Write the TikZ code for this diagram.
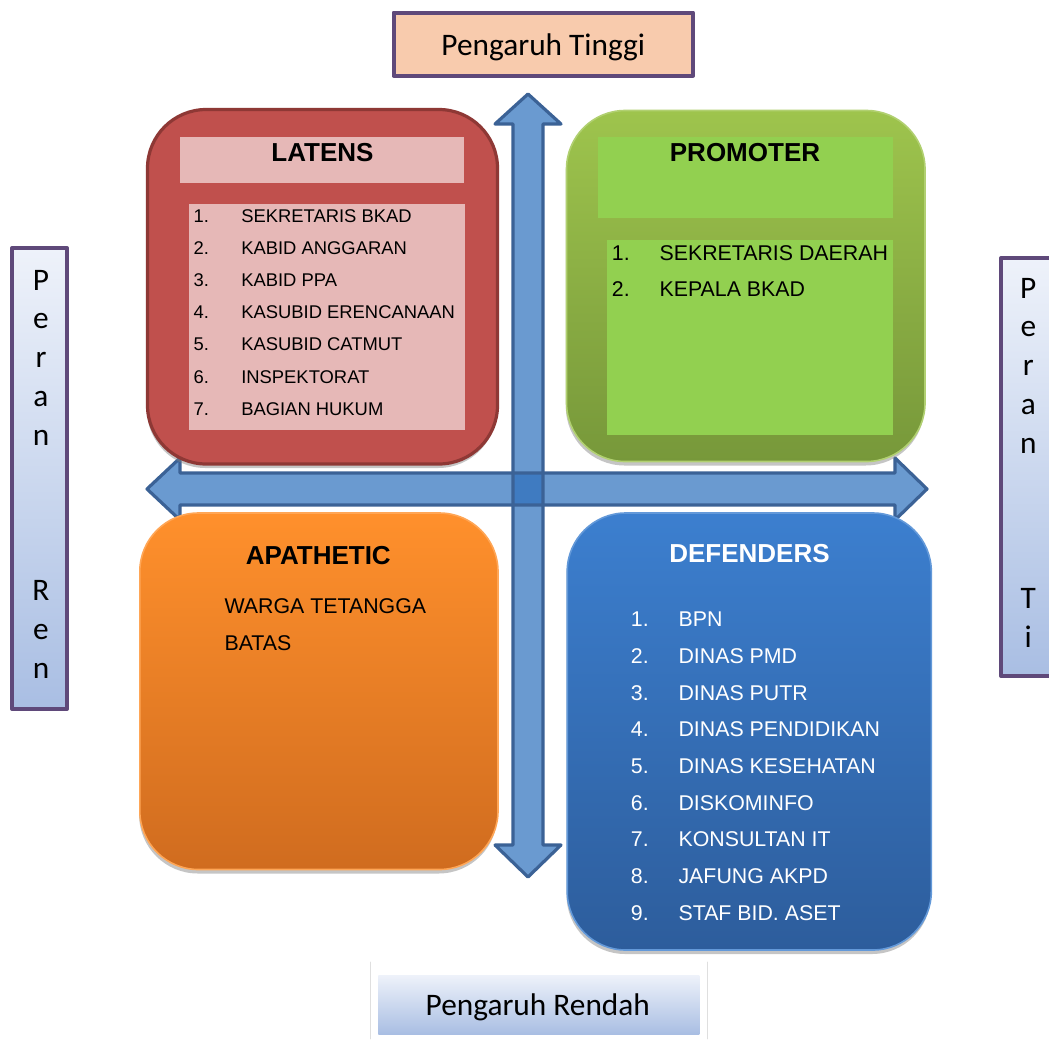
\documentclass[tikz,border=0pt]{standalone}
\usepackage{fontspec}
\setmainfont{Liberation Sans}
\newfontfamily\calibri{Carlito}
\usepackage{tikz}
\usetikzlibrary{shadows}

\definecolor{ungu}{HTML}{5F497A}
\definecolor{persik}{HTML}{F8CBAD}
\definecolor{birumuda}{HTML}{EEF2FA}
\definecolor{birutua}{HTML}{A9BEE3}
\definecolor{merah}{HTML}{C0504D}
\definecolor{merahgelap}{HTML}{8E3835}
\definecolor{merahmuda}{HTML}{E6B8B7}
\definecolor{hijauatas}{HTML}{9EC44D}
\definecolor{hijaubawah}{HTML}{77983A}
\definecolor{hijaumuda}{HTML}{92D050}
\definecolor{oranyeatas}{HTML}{FF902C}
\definecolor{oranyebawah}{HTML}{D06C1F}
\definecolor{biruatas}{HTML}{3C7FCF}
\definecolor{birubawah}{HTML}{2D5D9C}
\definecolor{panah}{HTML}{6A9AD0}
\definecolor{panahgaris}{HTML}{3B6296}
\definecolor{panahtengah}{HTML}{3F7BC1}

\begin{document}
\begin{tikzpicture}[line cap=round,line join=round,x=0.75pt,y=-0.75pt,
  kotak/.style={rounded corners=44pt,line width=1.2pt,
    drop shadow={shadow xshift=-0.5pt,shadow yshift=-3pt,opacity=0.45,fill=gray}},
  judul/.style={font=\bfseries\fontsize{19.5}{23}\selectfont,anchor=base,inner sep=0pt},
  butir/.style={font=\fontsize{13.8}{16}\selectfont,anchor=base west,inner sep=0pt},
  butirbesar/.style={font=\fontsize{16}{19}\selectfont,anchor=base west,inner sep=0pt},
  label/.style={font=\calibri\fontsize{23.5}{28}\selectfont,anchor=base,inner sep=0pt},
  sisi/.style={font=\calibri\fontsize{23.5}{29.1}\selectfont,align=center,anchor=base,inner sep=0pt}]
\useasboundingbox (0,0) rectangle (1049,1039);
\clip (0,0) rectangle (1049,1039);
\fill[white] (0,0) rectangle (1049,1039);

\draw[ungu,line width=3pt,fill=persik] (393.5,12.5) rectangle (693,75.5);
\node[label] (tinggi) at (543.3,55) {Pengaruh Tinggi};

\draw[gray!25,line width=0.6pt] (370.7,962) -- (370.7,1039);
\draw[gray!25,line width=0.6pt] (707.3,962) -- (707.3,1039);
\shade[top color=birumuda,bottom color=birutua] (378.3,975) rectangle (699.3,1034);
\node[label] (rendah) at (537.8,1015) {Pengaruh Rendah};

\draw[ungu,line width=3pt,top color=birumuda,bottom color=birutua] (12,248) rectangle (67,709);
\node[sisi] (peranren) at (41,678) {P\\e\\r\\a\\n\\~\\~\\~\\R\\e\\n};
\draw[ungu,line width=3pt,top color=birumuda,bottom color=birutua] (1001,258) rectangle (1070,676);
\node[sisi] (peranti) at (1028.3,647.2) {P\\e\\r\\a\\n\\~\\~\\~\\T\\i};

\fill[panah] (528,94) -- (561,124) -- (543,124) -- (543,845) -- (561,845) -- (528,877)
  -- (495,845) -- (513,845) -- (513,124) -- (495,124) -- cycle;
\fill[panah] (147,489) -- (180,458) -- (180,473) -- (895,473) -- (895,458) -- (927,489)
  -- (895,520) -- (895,505) -- (180,505) -- (180,520) -- cycle;
\fill[panahtengah] (513,473) rectangle (543,505);
\draw[panahgaris,line width=2.4pt] (528,94) -- (561,124) -- (543,124) -- (543,845) -- (561,845) -- (528,877)
  -- (495,845) -- (513,845) -- (513,124) -- (495,124) -- cycle;
\draw[panahgaris,line width=2.4pt] (147,489) -- (180,458) -- (180,473) -- (895,473) -- (895,458) -- (927,489)
  -- (895,520) -- (895,505) -- (180,505) -- (180,520) -- cycle;

\draw[kotak,draw=merahgelap,line width=2.4pt,fill=merah] (147.5,109.5) rectangle (497.5,464);
\fill[merahmuda] (180,137.3) rectangle (464,183.3);
\fill[merahmuda] (189.3,204.3) rectangle (465,430);
\node[judul] (latens) at (322.5,161.7) {LATENS};
\foreach \t [count=\i] in {SEKRETARIS BKAD,KABID ANGGARAN,KABID PPA,KASUBID ERENCANAAN,KASUBID CATMUT,INSPEKTORAT,BAGIAN HUKUM}
{
  \node[butir] (latno\i) at (193.3,{190.4+32.1*\i}) {\i.};
  \node[butir] (lat\i) at (241,{190.4+32.1*\i}) {\t};
}

\draw[kotak,draw=hijauatas!80!white,top color=hijauatas,bottom color=hijaubawah] (566.5,110.5) rectangle (925,461.5);
\fill[hijaumuda] (598.3,136.7) rectangle (892.7,218.3);
\fill[hijaumuda] (606.7,240) rectangle (892.7,435);
\node[judul] (promoter) at (745,161.7) {PROMOTER};
\node[butirbesar] (prono1) at (611.7,260) {1.};
\node[butirbesar] (pro1) at (659.3,260) {SEKRETARIS DAERAH};
\node[butirbesar] (prono2) at (611.7,296.7) {2.};
\node[butirbesar] (pro2) at (659.3,296.7) {KEPALA BKAD};

\draw[kotak,draw=oranyeatas!80!white,top color=oranyeatas,bottom color=oranyebawah] (139.8,513) rectangle (498,869.5);
\node[judul] (apathetic) at (318.3,564.3) {APATHETIC};
\node[butirbesar] (apa1) at (224.3,613.3) {WARGA TETANGGA};
\node[butirbesar] (apa2) at (224.3,650.7) {BATAS};

\draw[kotak,draw=biruatas!80!white,top color=biruatas,bottom color=birubawah] (567.2,513) rectangle (931.3,950);
\node[judul,white] (defenders) at (749.5,562.7) {DEFENDERS};
\foreach \t [count=\i] in {BPN,DINAS PMD,DINAS PUTR,DINAS PENDIDIKAN,DINAS KESEHATAN,DISKOMINFO,KONSULTAN IT,JAFUNG AKPD,STAF BID. ASET}
{
  \node[butirbesar,white] (defno\i) at (630.7,{590+36.67*\i}) {\i.};
  \node[butirbesar,white] (def\i) at (678.3,{590+36.67*\i}) {\t};
}
\end{tikzpicture}
\end{document}
